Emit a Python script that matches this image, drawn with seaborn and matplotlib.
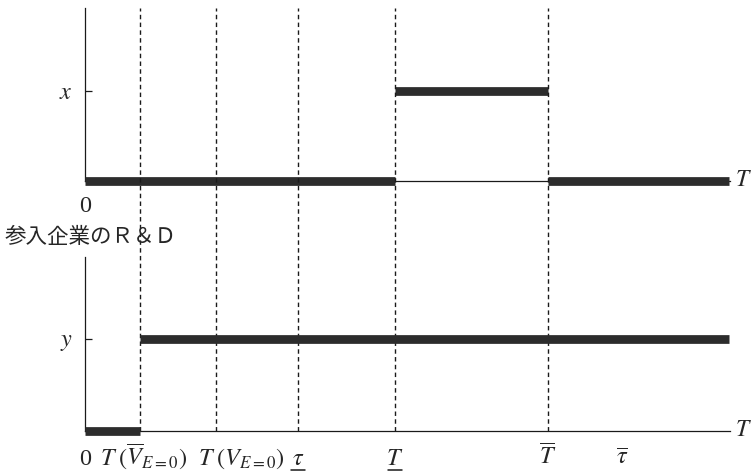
import numpy as np
import pandas as pd
import matplotlib
matplotlib.use("Agg")
import matplotlib.pyplot as plt
import matplotlib.transforms as mtransforms
import seaborn as sns

# time points on the T axis: 0, T(V̄_E=0), T(V_E=0), τ (under), T (under), T̄, τ̄
t_points = [0, 55, 131, 213, 310, 463, 537]
t_end = 644
t_labels = ["0", r"$T\;(\overline{V}_{E=0})$", r"$T\;(V_{E=0})$",
            r"$\tau$", r"$T$", r"$\overline{T}$", r"$\overline{\tau}$"]
t_underlined = [False, False, False, True, True, False, False]
label_centers = [0, 59, 156, 213, 310, 463, 537]
dashed_at = [55, 131, 213, 310, 463]

# upper panel: 0 until T (under), x between T (under) and T̄, 0 again after
inc_start = [0, 310, 463]
inc_end = [310, 463, 644]
inc_level = [0, 1, 0]

# lower panel (entrant R&D): 0 until T(V̄_E=0), y afterwards
ent_start = [0, 55]
ent_end = [55, 644]
ent_level = [0, 1]


def segments(starts, ends, levels):
    rows = []
    for i, (a, b, v) in enumerate(zip(starts, ends, levels)):
        rows.append({"seg": i, "t": a, "level": v})
        rows.append({"seg": i, "t": b, "level": v})
    return pd.DataFrame(rows)


sns.set_theme(style="white")
plt.rcParams["font.family"] = ["Liberation Serif", "DejaVu Serif"]
plt.rcParams["mathtext.fontset"] = "stix"

W, H = 755, 475
fig = plt.figure(figsize=(W / 100, H / 100), dpi=100)


def px_axes(top, bottom):
    return fig.add_axes([85 / W, 1 - bottom / H, (730 - 85) / W, (bottom - top) / H])


ax_top = px_axes(8, 181)
ax_bot = px_axes(257, 431)

bar_color = "#2c2c2c"
line_color = "#1a1a1a"
fs = 17.5

for ax, df, ymax, ylab in [(ax_top, segments(inc_start, inc_end, inc_level), 1.92, r"$x$"),
                           (ax_bot, segments(ent_start, ent_end, ent_level), 1.89, r"$y$")]:
    sns.lineplot(data=df, x="t", y="level", units="seg", estimator=None, sort=False,
                 color=bar_color, linewidth=6.3, solid_capstyle="butt", ax=ax,
                 zorder=3, clip_on=False)
    ax.set_xlim(0, 645)
    ax.set_ylim(0, ymax)
    ax.set(xlabel="", ylabel="")
    for s in ["top", "right"]:
        ax.spines[s].set_visible(False)
    for s in ["left", "bottom"]:
        ax.spines[s].set_color(line_color)
        ax.spines[s].set_linewidth(0.9)
    ax.set_xticks([])
    ax.set_yticks([1])
    ax.set_yticklabels([ylab], fontsize=fs)
    ax.tick_params(axis="y", direction="in", length=5, width=0.9, color=line_color, pad=9, left=True)
    ax.text((735 - 85) / 645, 0, r"$T$", transform=ax.transAxes, ha="left", va="center", fontsize=17)
    ax.patch.set_alpha(0)

# dashed guides run from the lower baseline up to the top of the upper panel
guide_top = (431 - 8) / (431 - 257)
for t in dashed_at:
    ax_bot.axvline(t, ymin=0, ymax=guide_top, color=line_color, linewidth=1.0,
                   linestyle=(0, (3.2, 2.4)), clip_on=False, zorder=1)

top_tr = mtransforms.blended_transform_factory(ax_top.transData, ax_top.transAxes)
ax_top.text(0, -0.15, "0", transform=top_tr, ha="center", va="center", fontsize=fs)

fig.text(5 / W, 1 - 237 / H, "参入企業のＲ＆Ｄ", ha="left", va="center", fontsize=15.5,
         family=["Noto Sans CJK JP"])

bot_tr = mtransforms.blended_transform_factory(ax_bot.transData, ax_bot.transAxes)
for x, lab, under in zip(label_centers, t_labels, t_underlined):
    ax_bot.text(x, -0.195, lab, transform=bot_tr, ha="center", va="baseline", fontsize=fs)
    if under:
        ax_bot.plot([x - 7, x + 7], [-0.222, -0.222], transform=bot_tr, color=line_color,
                    linewidth=1.1, clip_on=False)

fig.savefig("out.png", dpi=100)
